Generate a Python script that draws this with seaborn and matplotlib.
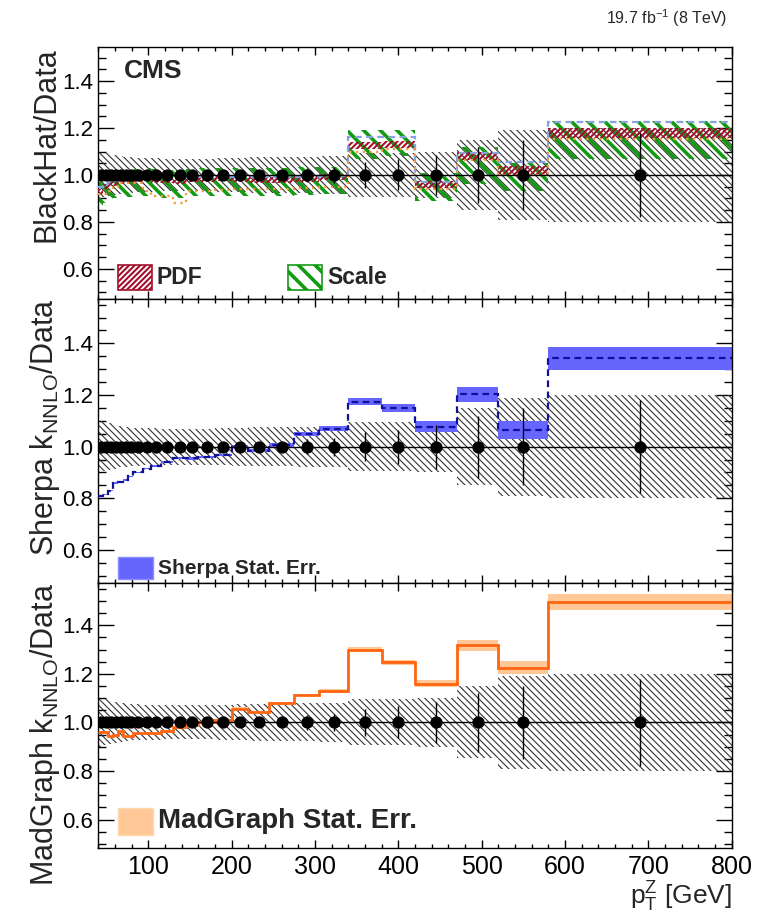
import numpy as np
import pandas as pd
import matplotlib
matplotlib.use("Agg")
import matplotlib.pyplot as plt
from matplotlib.patches import Rectangle
from matplotlib.ticker import MultipleLocator, FormatStrFormatter
import seaborn as sns

# ---------------------------------------------------------------------------
# pT(Z) binning [GeV]
bin_edges = [40, 46, 52, 58, 64, 70, 76, 82, 93, 103, 115, 130, 145, 160, 180,
             200, 220, 245, 275, 305, 340, 380, 420, 470, 520, 580, 800]

# Data (ratio to itself = 1): statistical error and total uncertainty band
data_stat = [0.004, 0.004, 0.004, 0.004, 0.004, 0.005, 0.005, 0.005, 0.006, 0.006,
             0.007, 0.008, 0.009, 0.010, 0.012, 0.014, 0.016, 0.020, 0.030, 0.035,
             0.055, 0.066, 0.085, 0.120, 0.150, 0.180]
data_band = [0.100, 0.095, 0.090, 0.085, 0.080, 0.078, 0.076, 0.074, 0.072, 0.071,
             0.070, 0.070, 0.070, 0.070, 0.072, 0.074, 0.075, 0.076, 0.078, 0.080,
             0.095, 0.095, 0.100, 0.148, 0.190, 0.200]

# BlackHat / Data
bh_pdf_center = [0.930, 0.950, 0.960, 0.965, 0.970, 0.975, 0.975, 0.980, 0.985, 0.975,
                 0.975, 0.970, 0.980, 0.980, 0.985, 0.980, 0.980, 0.980, 0.985, 0.990,
                 1.125, 1.130, 0.960, 1.080, 1.020, 1.178]
bh_pdf_err = [0.010, 0.010, 0.010, 0.010, 0.010, 0.010, 0.010, 0.010, 0.010, 0.010,
              0.010, 0.010, 0.010, 0.010, 0.011, 0.011, 0.012, 0.012, 0.013, 0.013,
              0.014, 0.015, 0.015, 0.016, 0.018, 0.022]
bh_scale_lo = [0.870, 0.880, 0.890, 0.900, 0.900, 0.905, 0.905, 0.910, 0.910, 0.905,
               0.900, 0.900, 0.910, 0.910, 0.910, 0.910, 0.910, 0.910, 0.915, 0.920,
               1.070, 1.080, 0.890, 0.960, 0.930, 1.070]
bh_scale_hi = [0.970, 0.980, 0.990, 1.000, 1.010, 1.015, 1.020, 1.025, 1.030, 1.025,
               1.020, 1.020, 1.025, 1.030, 1.030, 1.030, 1.030, 1.030, 1.035, 1.035,
               1.190, 1.190, 1.010, 1.120, 1.050, 1.230]
bh_nominal = [0.950, 0.960, 0.970, 0.975, 0.980, 0.985, 0.985, 0.990, 0.990, 0.985,
              0.985, 0.985, 0.990, 0.990, 0.990, 0.990, 0.990, 0.990, 0.990, 0.995,
              1.160, 1.160, 0.970, 1.092, 1.057, 1.227]
bh_alt = [0.920, 0.920, 0.930, 0.950, 0.965, 0.965, 0.965, 0.965, 0.930, 0.910,
          0.910, 0.880, 0.930, 0.930, 0.935, 0.940, 0.940, 0.940, 0.945, 0.950,
          1.100, 1.110, 0.940, 1.064, 1.000, 1.153]

# Sherpa x k_NNLO / Data
sherpa_ratio = [0.810, 0.815, 0.830, 0.860, 0.865, 0.870, 0.885, 0.900, 0.915, 0.925,
                0.940, 0.955, 0.955, 0.960, 0.968, 1.000, 0.985, 1.006, 1.050, 1.070,
                1.174, 1.149, 1.078, 1.203, 1.065, 1.342]
sherpa_err = [0.003, 0.003, 0.003, 0.003, 0.003, 0.003, 0.003, 0.003, 0.003, 0.004,
              0.004, 0.004, 0.005, 0.005, 0.005, 0.006, 0.006, 0.007, 0.008, 0.010,
              0.013, 0.016, 0.023, 0.030, 0.036, 0.045]

# MadGraph x k_NNLO / Data
madgraph_ratio = [0.960, 0.960, 0.943, 0.950, 0.965, 0.943, 0.943, 0.955, 0.955, 0.955,
                  0.965, 0.980, 0.990, 1.000, 1.010, 1.057, 1.042, 1.078, 1.113, 1.130,
                  1.300, 1.248, 1.159, 1.318, 1.226, 1.495]
madgraph_err = [0.003, 0.003, 0.003, 0.003, 0.003, 0.003, 0.003, 0.003, 0.003, 0.003,
                0.003, 0.004, 0.004, 0.004, 0.004, 0.005, 0.005, 0.006, 0.006, 0.007,
                0.009, 0.010, 0.014, 0.022, 0.026, 0.033]

# ---------------------------------------------------------------------------
sns.set_theme(style="ticks")
plt.rcParams["font.family"] = ["Liberation Sans", "DejaVu Sans"]
plt.rcParams["mathtext.fontset"] = "custom"
plt.rcParams["mathtext.rm"] = "Liberation Sans"
plt.rcParams["mathtext.it"] = "Liberation Sans:italic"
plt.rcParams["mathtext.bf"] = "Liberation Sans:bold"
plt.rcParams["axes.linewidth"] = 1.0
plt.rcParams["axes.edgecolor"] = "black"

edges = np.array(bin_edges, dtype=float)
centers = 0.5 * (edges[:-1] + edges[1:])
data_df = pd.DataFrame({"pt": centers, "ratio": np.ones_like(centers),
                        "err": data_stat})

W, H = 783, 918
fig = plt.figure(figsize=(W / 100, H / 100), dpi=100)

x0, x1 = 98.4, 731.7
panels = [(47, 299), (299, 583), (583, 848)]
ylims = [(0.472, 1.545), (0.472, 1.572), (0.483, 1.574)]
axes = []
for (ytop, ybot) in panels:
    ax = fig.add_axes([x0 / W, 1 - ybot / H, (x1 - x0) / W, (ybot - ytop) / H])
    axes.append(ax)

HATCH_DATA = "\\" * 5
HATCH_SCALE = "\\" * 2
HATCH_PDF = "/" * 6


def set_hatch_lw(artist, lw):
    if hasattr(artist, "set_hatch_linewidth"):
        artist.set_hatch_linewidth(lw)


def draw_data(ax):
    band_lo = 1 - np.array(data_band)
    band_hi = 1 + np.array(data_band)
    p = ax.stairs(band_hi, edges, baseline=band_lo, fill=True, hatch=HATCH_DATA,
                  facecolor="none", edgecolor="#333333", linewidth=0, zorder=1)
    set_hatch_lw(p, 0.8)


def draw_points(ax):
    ax.axhline(1.0, color="black", lw=1.0, zorder=6)
    ax.errorbar(data_df["pt"], data_df["ratio"], yerr=data_df["err"], fmt="none",
                ecolor="black", elinewidth=1.0, zorder=7)
    sns.scatterplot(data=data_df, x="pt", y="ratio", ax=ax, color="black",
                    s=78, edgecolor="black", linewidth=0, zorder=8, legend=False)


def style_axis(ax, ylim, last):
    ax.set_xlim(40, 800)
    ax.set_ylim(*ylim)
    ax.xaxis.set_major_locator(MultipleLocator(100))
    ax.xaxis.set_minor_locator(MultipleLocator(20))
    ax.yaxis.set_major_locator(MultipleLocator(0.2))
    ax.yaxis.set_minor_locator(MultipleLocator(0.05))
    ax.yaxis.set_major_formatter(FormatStrFormatter("%.1f"))
    ax.tick_params(which="both", direction="in", top=True, right=True,
                   colors="black", width=1.0)
    ax.tick_params(axis="y", which="major", length=11.5, labelsize=16, pad=4)
    ax.tick_params(axis="y", which="minor", length=5.5)
    ax.tick_params(axis="x", which="major", length=6, labelsize=18, pad=5)
    ax.tick_params(axis="x", which="minor", length=3)
    if not last:
        ax.tick_params(axis="x", labelbottom=False)
    ax.set_xlabel("")
    for s in ax.spines.values():
        s.set_visible(True)
        s.set_linewidth(1.0)


# --- BlackHat panel -------------------------------------------------------
ax = axes[0]
draw_data(ax)
sc = ax.stairs(bh_scale_hi, edges, baseline=bh_scale_lo, fill=True, hatch=HATCH_SCALE,
               facecolor="none", edgecolor="#139a13", linewidth=0, zorder=2)
set_hatch_lw(sc, 2.6)
pdf_lo = np.array(bh_pdf_center) - np.array(bh_pdf_err)
pdf_hi = np.array(bh_pdf_center) + np.array(bh_pdf_err)
pd_patch = ax.stairs(pdf_hi, edges, baseline=pdf_lo, fill=True, hatch=HATCH_PDF,
                     facecolor="none", edgecolor="#a3102c", linewidth=0, zorder=3)
set_hatch_lw(pd_patch, 1.5)
ax.stairs(bh_nominal, edges, baseline=None, color="#86a2e0", lw=1.6,
          linestyle=(0, (3, 2)), zorder=4)
ax.stairs(bh_alt, edges, baseline=None, color="#f39a3a", lw=1.6,
          linestyle=(0, (1, 2)), zorder=4)
draw_points(ax)
style_axis(ax, ylims[0], False)
ax.set_ylabel("BlackHat/Data", fontsize=22, loc="top")

# legend entries
fx = lambda px: (px - x0) / (x1 - x0)
h0 = panels[0][1] - panels[0][0]
fy0 = lambda py: (panels[0][1] - py) / h0
r = Rectangle((fx(118), fy0(290)), fx(152) - fx(118), fy0(265) - fy0(290),
              transform=ax.transAxes, facecolor="white", edgecolor="#a3102c",
              hatch=HATCH_PDF, lw=1.2, zorder=9)
set_hatch_lw(r, 1.5)
ax.add_patch(r)
ax.text(fx(157), fy0(277.5), "PDF", transform=ax.transAxes, fontsize=16.5,
        fontweight="bold", va="center", ha="left", zorder=9)
r = Rectangle((fx(288), fy0(290)), fx(322) - fx(288), fy0(265) - fy0(290),
              transform=ax.transAxes, facecolor="white", edgecolor="#139a13",
              hatch=HATCH_SCALE, lw=1.2, zorder=9)
set_hatch_lw(r, 2.6)
ax.add_patch(r)
ax.text(fx(327), fy0(277.5), "Scale", transform=ax.transAxes, fontsize=16.5,
        fontweight="bold", va="center", ha="left", zorder=9)
ax.text(fx(124), fy0(71), "CMS", transform=ax.transAxes, fontsize=19,
        fontweight="bold", va="center", ha="left", zorder=9)

# --- Sherpa panel ---------------------------------------------------------
ax = axes[1]
draw_data(ax)
s_lo = np.array(sherpa_ratio) - np.array(sherpa_err)
s_hi = np.array(sherpa_ratio) + np.array(sherpa_err)
ax.stairs(s_hi, edges, baseline=s_lo, fill=True, facecolor="#6666ff",
          edgecolor="none", lw=0, zorder=2)
ax.stairs(sherpa_ratio, edges, baseline=None, color="#10109a", lw=1.6,
          linestyle=(0, (3, 2)), zorder=4)
draw_points(ax)
style_axis(ax, ylims[1], False)
ax.set_ylabel(r"Sherpa k$_{\mathrm{NNLO}}$/Data", fontsize=22, loc="top")
h1 = panels[1][1] - panels[1][0]
fy1 = lambda py: (panels[1][1] - py) / h1
ax.add_patch(Rectangle((fx(118), fy1(579)), fx(153) - fx(118), fy1(557) - fy1(579),
                       transform=ax.transAxes, facecolor="#6666ff",
                       edgecolor="#8c8cff", lw=1.0, zorder=9))
ax.text(fx(158), fy1(568), "Sherpa Stat. Err.", transform=ax.transAxes,
        fontsize=15, fontweight="bold", va="center", ha="left", zorder=9)

# --- MadGraph panel -------------------------------------------------------
ax = axes[2]
draw_data(ax)
m_lo = np.array(madgraph_ratio) - np.array(madgraph_err)
m_hi = np.array(madgraph_ratio) + np.array(madgraph_err)
ax.stairs(m_hi, edges, baseline=m_lo, fill=True, facecolor="#ffc896",
          edgecolor="none", lw=0, zorder=2)
ax.stairs(madgraph_ratio, edges, baseline=None, color="#ff6510", lw=2.0, zorder=4)
draw_points(ax)
style_axis(ax, ylims[2], True)
ax.set_ylabel(r"MadGraph k$_{\mathrm{NNLO}}$/Data", fontsize=22, loc="top")
h2 = panels[2][1] - panels[2][0]
fy2 = lambda py: (panels[2][1] - py) / h2
ax.add_patch(Rectangle((fx(118), fy2(835)), fx(153) - fx(118), fy2(808) - fy2(835),
                       transform=ax.transAxes, facecolor="#ffc896",
                       edgecolor="#ffd8b0", lw=1.0, zorder=9))
ax.text(fx(158), fy2(821), "MadGraph Stat. Err.", transform=ax.transAxes,
        fontsize=20, fontweight="bold", va="center", ha="left", zorder=9)

for ax in axes:
    ax.yaxis.set_label_coords(-0.058, 1.0)

# x-axis title below the tick labels, right aligned to the frame
fig.text(x1 / W, 1 - 905 / H, r"p$_{\mathrm{T}}^{\mathrm{Z}}$ [GeV]", fontsize=19,
         ha="right", va="baseline")

fig.text(727 / W, 1 - 18 / H, r"19.7 fb$^{-1}$ (8 TeV)", fontsize=11.5,
         ha="right", va="center")

fig.savefig("out.png", dpi=100)
